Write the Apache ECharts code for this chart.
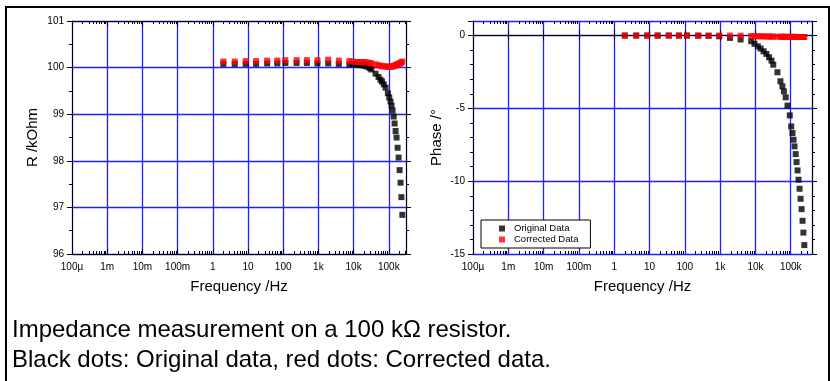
<!DOCTYPE html>
<html>
<head>
<meta charset="utf-8">
<script src="https://cdn.jsdelivr.net/npm/echarts@6/dist/echarts.min.js"></script>
<style>
  html, body { margin: 0; padding: 0; background: #fff; }
  #main { width: 830px; height: 381px; }
</style>
</head>
<body>
<div id="main"></div>
<script>
// frequencies in Hz
var freqHz = [2, 4.2, 8.6, 17, 35, 68, 115, 240, 470, 940, 1900, 3800,
  7600, 9400, 11700, 14000, 17000, 20400, 24300, 28500, 32000, 42000, 51000, 58000,
  64000, 72000, 81000, 94000, 103000, 112000, 120000, 128000, 138000, 146000,
  156000, 166000, 178000, 190000, 203000, 216000, 228000, 242000]

// R /kOhm
var rOriginal = [100.08, 100.08, 100.08, 100.08, 100.09, 100.09, 100.10, 100.10, 100.10, 100.09, 100.09, 100.08,
  100.07, 100.07, 100.07, 100.06, 100.05, 100.04, 100.02, 99.99, 99.96, 99.87, 99.80, 99.74,
  99.70, 99.64, 99.57, 99.45, 99.36, 99.27, 99.18, 99.08, 98.95, 98.80,
  98.64, 98.50, 98.28, 98.07, 97.80, 97.53, 97.22, 96.84]
var rCorrected = [100.13, 100.13, 100.14, 100.14, 100.15, 100.15, 100.16, 100.16, 100.16, 100.16, 100.17, 100.15,
  100.14, 100.13, 100.12, 100.12, 100.12, 100.12, 100.11, 100.10, 100.09, 100.07, 100.05, 100.04,
  100.03, 100.03, 100.02, 100.02, 100.02, 100.02, 100.02, 100.03, 100.03, 100.04,
  100.05, 100.06, 100.07, 100.08, 100.09, 100.10, 100.11, 100.13]

// Phase /°
var phaseOriginal = [0, 0, 0, 0, 0, 0, 0, -0.01, -0.02, -0.05, -0.16, -0.27,
  -0.39, -0.57, -0.74, -0.89, -1.08, -1.26, -1.49, -1.72, -2.0, -2.52, -3.14, -3.49,
  -3.83, -4.24, -4.81, -5.48, -6.24, -6.69, -7.15, -7.61, -8.14, -8.69,
  -9.26, -9.9, -10.52, -11.21, -11.92, -12.72, -13.53, -14.39]
var phaseCorrected = [0, 0, 0, 0, 0, 0, 0, 0, 0, 0, 0, -0.01,
  -0.03, -0.04, -0.05, -0.05, -0.06, -0.06, -0.07, -0.07, -0.07, -0.08, -0.08, -0.08,
  -0.08, -0.09, -0.09, -0.09, -0.09, -0.09, -0.09, -0.09, -0.1, -0.1,
  -0.1, -0.1, -0.1, -0.1, -0.1, -0.1, -0.1, -0.1]

// decade tick labels, 1e-4 .. 1e5
var xTickLabels = ['100µ', '1m', '10m', '100m', '1', '10', '100', '1k', '10k', '100k']

var FONT = '"Liberation Sans", Arial, sans-serif'
var GRID_BLUE = '#1f1fff'

function pairs(xs, ys) {
  return xs.map(function (x, i) { return [x, ys[i]] })
}

// log minor ticks 2..9 per decade
function minorTicks(maxVal) {
  var out = []
  for (var d = -4; d <= 5; d++) {
    for (var k = 2; k <= 9; k++) {
      var v = k * Math.pow(10, d)
      if (v < maxVal) out.push(v)
    }
  }
  return out
}

function decadeLabel(value) {
  var e = Math.log10(value)
  var r = Math.round(e)
  if (Math.abs(e - r) > 1e-6) return ''
  return xTickLabels[r + 4] || ''
}

function xAxes(gridIndex, maxVal) {
  var minors = minorTicks(maxVal)
  var base = {
    type: 'log', logBase: 10, gridIndex: gridIndex, min: 1e-4, max: maxVal, splitNumber: 10
  }
  return [
    Object.assign({}, base, {
      position: 'bottom',
      name: 'Frequency /Hz', nameLocation: 'middle', nameGap: 25,
      nameTextStyle: { fontFamily: FONT, fontSize: 15, color: '#000' },
      axisLine: { lineStyle: { color: '#000', width: 1 } },
      axisTick: { inside: true, length: 5, lineStyle: { color: '#000' } },
      axisLabel: { formatter: decadeLabel, fontFamily: FONT, fontSize: 10, color: '#000', margin: 8, showMaxLabel: false },
      splitLine: { show: true, lineStyle: { color: GRID_BLUE, width: 1.3 } }
    }),
    Object.assign({}, base, {
      position: 'top',
      axisLine: { lineStyle: { color: '#000', width: 1 } },
      axisTick: { inside: true, length: 5, lineStyle: { color: '#000' } },
      axisLabel: { show: false },
      splitLine: { show: false }
    }),
    // minor ticks, bottom and top
    Object.assign({}, base, {
      position: 'bottom',
      axisLine: { show: false },
      axisTick: { inside: true, length: 3, customValues: minors, lineStyle: { color: '#000' } },
      axisLabel: { show: false },
      splitLine: { show: false }
    }),
    Object.assign({}, base, {
      position: 'top',
      axisLine: { show: false },
      axisTick: { inside: true, length: 3, customValues: minors, lineStyle: { color: '#000' } },
      axisLabel: { show: false },
      splitLine: { show: false }
    })
  ]
}

function yAxes(gridIndex, min, max, interval, minorSplit, name, nameGap) {
  var base = {
    type: 'value', gridIndex: gridIndex, min: min, max: max, interval: interval,
    axisLine: { show: true, lineStyle: { color: '#000', width: 1 } },
    axisTick: { show: true, inside: false, length: 5, lineStyle: { color: '#000' } },
    minorTick: { show: true, splitNumber: minorSplit, length: 3, lineStyle: { color: '#000' } }
  }
  return [
    Object.assign({}, base, {
      position: 'left',
      name: name, nameLocation: 'middle', nameGap: nameGap, nameRotate: 90,
      nameTextStyle: { fontFamily: FONT, fontSize: 15, color: '#000' },
      axisLabel: { fontFamily: FONT, fontSize: 10, color: '#000', margin: 8, showMaxLabel: max % interval === 0 },
      splitLine: { show: true, lineStyle: { color: GRID_BLUE, width: 1.3 } }
    }),
    Object.assign({}, base, {
      position: 'right',
      axisLabel: { show: false },
      splitLine: { show: false }
    })
  ]
}

var chart = echarts.init(document.getElementById('main'), null, { renderer: 'canvas' })

var option = {
  backgroundColor: '#fff',
  animation: false,
  grid: [
    { left: 72, top: 21, width: 334, height: 233 },
    { left: 473, top: 21, width: 339, height: 233 }
  ],
  xAxis: xAxes(0, 3.08e5).concat(xAxes(1, 4e5)),
  yAxis: yAxes(0, 96, 101, 1, 2, 'R /kOhm', 32).concat(yAxes(1, -15, 1, 5, 5, 'Phase /°', 29)),
  legend: {
    orient: 'vertical',
    left: 481, top: 220,
    padding: [3, 12, 3, 18],
    itemWidth: 14, itemHeight: 6, itemGap: 0,
    backgroundColor: '#fff',
    borderColor: '#000', borderWidth: 1, borderRadius: 0,
    icon: 'path://M0 0H10V10H0Z',
    textStyle: { fontFamily: FONT, fontSize: 9.5, color: '#000', lineHeight: 11 },
    data: ['Original Data', 'Corrected Data']
  },
  series: [
    { name: 'Original Data', type: 'scatter', xAxisIndex: 0, yAxisIndex: 0, symbol: 'rect', symbolSize: 6,
      itemStyle: { color: '#000' }, z: 2, data: pairs(freqHz, rOriginal) },
    { name: 'Corrected Data', type: 'scatter', xAxisIndex: 0, yAxisIndex: 0, symbol: 'rect', symbolSize: 6,
      itemStyle: { color: '#ff0000' }, z: 3, data: pairs(freqHz, rCorrected) },
    { name: 'Original Data', type: 'scatter', xAxisIndex: 4, yAxisIndex: 2, symbol: 'rect', symbolSize: 6,
      itemStyle: { color: '#000' }, z: 2, data: pairs(freqHz, phaseOriginal) },
    { name: 'Corrected Data', type: 'scatter', xAxisIndex: 4, yAxisIndex: 2, symbol: 'rect', symbolSize: 6,
      itemStyle: { color: '#ff0000' }, z: 3, data: pairs(freqHz, phaseCorrected) }
  ],
  graphic: [
    { type: 'rect', shape: { x: 6, y: 7, width: 823, height: 380 },
      style: { fill: 'none', stroke: '#000', lineWidth: 2 }, silent: true },
    { type: 'text', left: 12, top: 318,
      style: { text: 'Impedance measurement on a 100 kΩ resistor.', font: '24px ' + FONT, fill: '#000' } },
    { type: 'text', left: 12, top: 348,
      style: { text: 'Black dots: Original data, red dots: Corrected data.', font: '24px ' + FONT, fill: '#000' } }
  ]
}

chart.setOption(option)
</script>
</body>
</html>
